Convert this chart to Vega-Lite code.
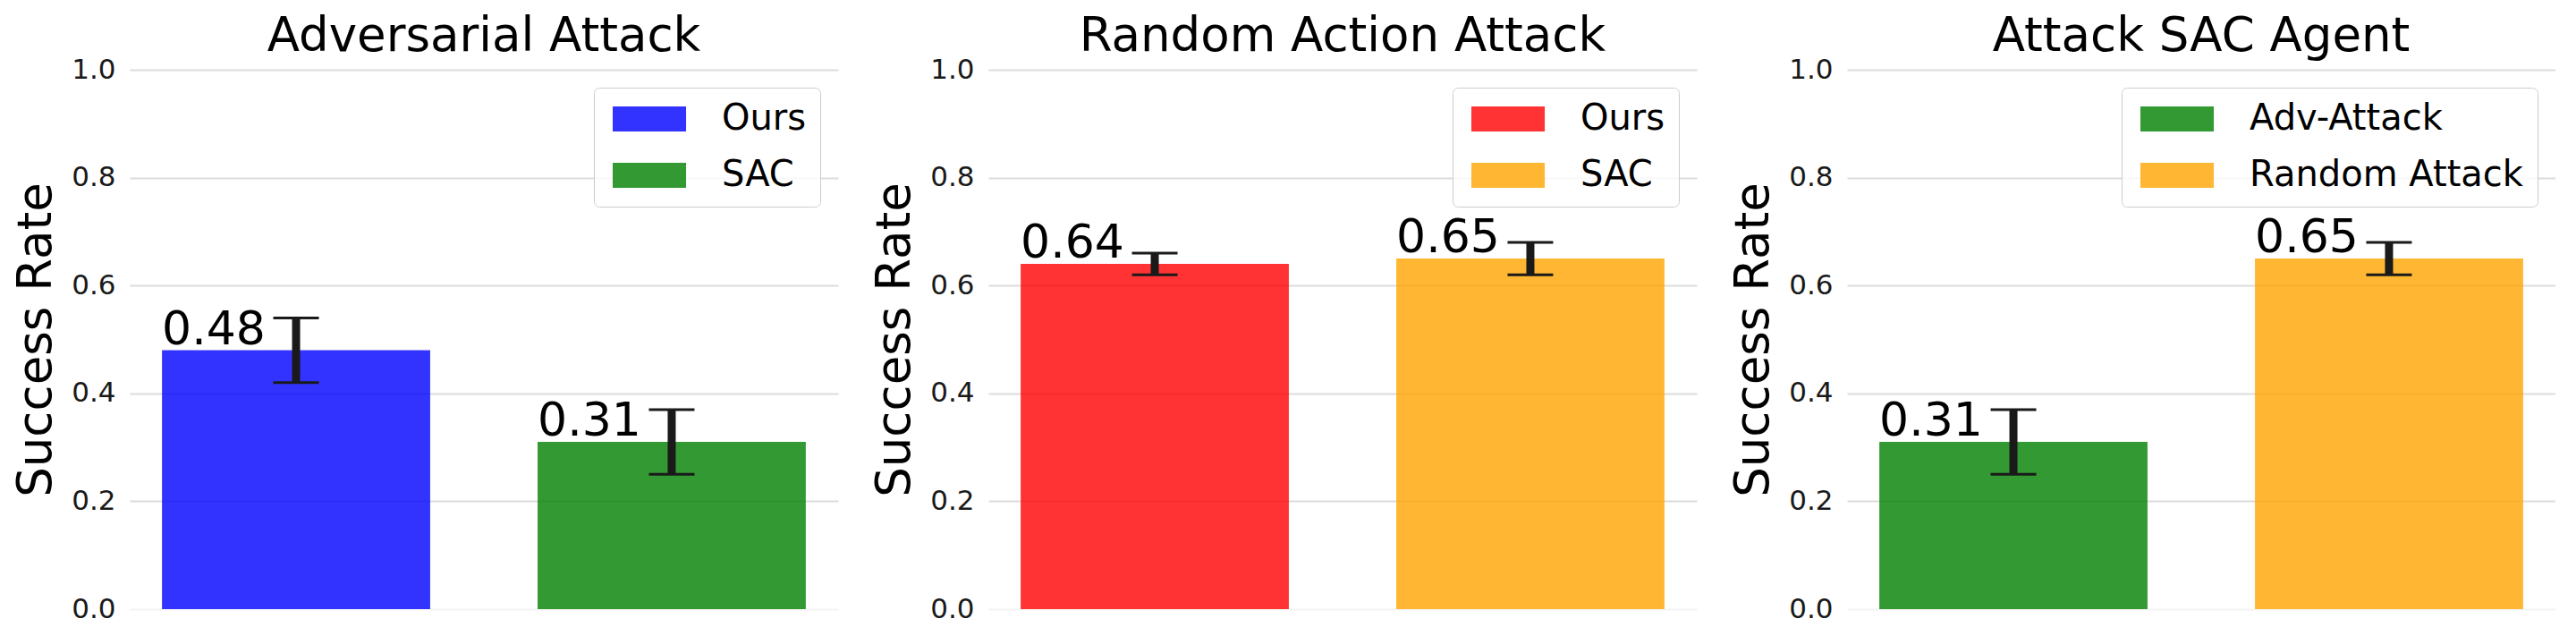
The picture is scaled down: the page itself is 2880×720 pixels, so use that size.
{
  "$schema": "https://vega.github.io/schema/vega-lite/v6.json",
  "background": "white",
  "padding": {"left": 14, "top": 15, "right": 0, "bottom": 0},
  "config": {
    "font": "DejaVu Sans",
    "view": {"stroke": null},
    "concat": {"spacing": 168},
    "title": {"fontSize": 53, "fontWeight": "normal", "color": "#000000", "font": "DejaVu Sans", "anchor": "middle", "baseline": "alphabetic", "offset": -6},
    "axisY": {
      "labelFontSize": 31,
      "labelColor": "#1a1a1a",
      "labelPadding": 16,
      "ticks": false,
      "tickSize": 0,
      "domain": false,
      "grid": true,
      "gridWidth": 2,
      "gridColor": "#dcdcdc",
      "titleFontSize": 53,
      "titleFontWeight": "normal",
      "titleColor": "#000000",
      "titlePadding": 12
    },
    "legend": {
      "orient": "top-right",
      "offset": 20,
      "labelFontSize": 40,
      "labelColor": "#000000",
      "labelLimit": 0,
      "symbolType": "M-1,-1H4.86V1H-1Z",
      "symbolSize": 784,
      "symbolStrokeWidth": 0,
      "symbolOpacity": 0.8,
      "labelOffset": 88,
      "rowPadding": 23,
      "padding": 15,
      "strokeColor": "#cccccc",
      "fillColor": "rgba(255,255,255,0.8)",
      "cornerRadius": 6
    }
  },
  "resolve": {"scale": {"color": "independent"}, "legend": {"color": "independent"}},
  "bounds": "flush",
  "hconcat": [
    {
      "width": 792, "height": 603,
      "title": "Adversarial Attack",
      "data": {"values": [
        {"method": "Ours", "value": 0.48, "lo": 0.42, "hi": 0.54},
        {"method": "SAC", "value": 0.31, "lo": 0.25, "hi": 0.37}
      ]},
      "encoding": {"x": {"field": "method", "type": "nominal", "sort": null, "axis": null, "scale": {"paddingInner": 0.286, "paddingOuter": 0.086}}},
      "layer": [
        {"mark": {"type": "bar", "opacity": 0.8},
         "encoding": {
           "y": {"field": "value", "type": "quantitative", "title": "Success Rate", "scale": {"domain": [0, 1], "nice": false},
                 "axis": {"values": [0, 0.2, 0.4, 0.6, 0.8, 1.0], "format": ".1f", "gridColor": {"condition": {"test": "datum.value === 0", "value": "#f3f3f3"}, "value": "#dcdcdc"}}},
           "color": {"field": "method", "type": "nominal", "sort": null, "scale": {"domain": ["Ours", "SAC"], "range": ["#0000ff", "#008000"]}, "legend": {"title": null}}
         }},
        {"mark": {"type": "rule", "color": "#1a1a1a", "strokeWidth": 9},
         "encoding": {"y": {"field": "lo", "type": "quantitative", "title": "Success Rate"}, "y2": {"field": "hi"}}},
        {"mark": {"type": "tick", "color": "#1a1a1a", "size": 51, "thickness": 3, "opacity": 1, "orient": "horizontal"},
         "encoding": {"y": {"field": "lo", "type": "quantitative", "title": "Success Rate"}}},
        {"mark": {"type": "tick", "color": "#1a1a1a", "size": 51, "thickness": 3, "opacity": 1, "orient": "horizontal"},
         "encoding": {"y": {"field": "hi", "type": "quantitative", "title": "Success Rate"}}},
        {"mark": {"type": "text", "align": "left", "baseline": "alphabetic", "dy": -7, "fontSize": 52, "color": "#000000"},
         "encoding": {
           "x": {"field": "method", "type": "nominal", "sort": null, "bandPosition": 0},
           "y": {"field": "value", "type": "quantitative", "title": "Success Rate"},
           "text": {"field": "value", "type": "quantitative", "format": ".2f"}
         }}
      ]
    },
    {
      "width": 792, "height": 603,
      "title": "Random Action Attack",
      "data": {"values": [
        {"method": "Ours", "value": 0.64, "lo": 0.62, "hi": 0.66},
        {"method": "SAC", "value": 0.65, "lo": 0.62, "hi": 0.68}
      ]},
      "encoding": {"x": {"field": "method", "type": "nominal", "sort": null, "axis": null, "scale": {"paddingInner": 0.286, "paddingOuter": 0.086}}},
      "layer": [
        {"mark": {"type": "bar", "opacity": 0.8},
         "encoding": {
           "y": {"field": "value", "type": "quantitative", "title": "Success Rate", "scale": {"domain": [0, 1], "nice": false},
                 "axis": {"values": [0, 0.2, 0.4, 0.6, 0.8, 1.0], "format": ".1f", "gridColor": {"condition": {"test": "datum.value === 0", "value": "#f3f3f3"}, "value": "#dcdcdc"}}},
           "color": {"field": "method", "type": "nominal", "sort": null, "scale": {"domain": ["Ours", "SAC"], "range": ["#ff0000", "#ffa500"]}, "legend": {"title": null}}
         }},
        {"mark": {"type": "rule", "color": "#1a1a1a", "strokeWidth": 9},
         "encoding": {"y": {"field": "lo", "type": "quantitative", "title": "Success Rate"}, "y2": {"field": "hi"}}},
        {"mark": {"type": "tick", "color": "#1a1a1a", "size": 51, "thickness": 3, "opacity": 1, "orient": "horizontal"},
         "encoding": {"y": {"field": "lo", "type": "quantitative", "title": "Success Rate"}}},
        {"mark": {"type": "tick", "color": "#1a1a1a", "size": 51, "thickness": 3, "opacity": 1, "orient": "horizontal"},
         "encoding": {"y": {"field": "hi", "type": "quantitative", "title": "Success Rate"}}},
        {"mark": {"type": "text", "align": "left", "baseline": "alphabetic", "dy": -7, "fontSize": 52, "color": "#000000"},
         "encoding": {
           "x": {"field": "method", "type": "nominal", "sort": null, "bandPosition": 0},
           "y": {"field": "value", "type": "quantitative", "title": "Success Rate"},
           "text": {"field": "value", "type": "quantitative", "format": ".2f"}
         }}
      ]
    },
    {
      "width": 792, "height": 603,
      "title": "Attack SAC Agent",
      "data": {"values": [
        {"method": "Adv-Attack", "value": 0.31, "lo": 0.25, "hi": 0.37},
        {"method": "Random Attack", "value": 0.65, "lo": 0.62, "hi": 0.68}
      ]},
      "encoding": {"x": {"field": "method", "type": "nominal", "sort": null, "axis": null, "scale": {"paddingInner": 0.286, "paddingOuter": 0.086}}},
      "layer": [
        {"mark": {"type": "bar", "opacity": 0.8},
         "encoding": {
           "y": {"field": "value", "type": "quantitative", "title": "Success Rate", "scale": {"domain": [0, 1], "nice": false},
                 "axis": {"values": [0, 0.2, 0.4, 0.6, 0.8, 1.0], "format": ".1f", "gridColor": {"condition": {"test": "datum.value === 0", "value": "#f3f3f3"}, "value": "#dcdcdc"}}},
           "color": {"field": "method", "type": "nominal", "sort": null, "scale": {"domain": ["Adv-Attack", "Random Attack"], "range": ["#008000", "#ffa500"]}, "legend": {"title": null}}
         }},
        {"mark": {"type": "rule", "color": "#1a1a1a", "strokeWidth": 9},
         "encoding": {"y": {"field": "lo", "type": "quantitative", "title": "Success Rate"}, "y2": {"field": "hi"}}},
        {"mark": {"type": "tick", "color": "#1a1a1a", "size": 51, "thickness": 3, "opacity": 1, "orient": "horizontal"},
         "encoding": {"y": {"field": "lo", "type": "quantitative", "title": "Success Rate"}}},
        {"mark": {"type": "tick", "color": "#1a1a1a", "size": 51, "thickness": 3, "opacity": 1, "orient": "horizontal"},
         "encoding": {"y": {"field": "hi", "type": "quantitative", "title": "Success Rate"}}},
        {"mark": {"type": "text", "align": "left", "baseline": "alphabetic", "dy": -7, "fontSize": 52, "color": "#000000"},
         "encoding": {
           "x": {"field": "method", "type": "nominal", "sort": null, "bandPosition": 0},
           "y": {"field": "value", "type": "quantitative", "title": "Success Rate"},
           "text": {"field": "value", "type": "quantitative", "format": ".2f"}
         }}
      ]
    }
  ]
}
